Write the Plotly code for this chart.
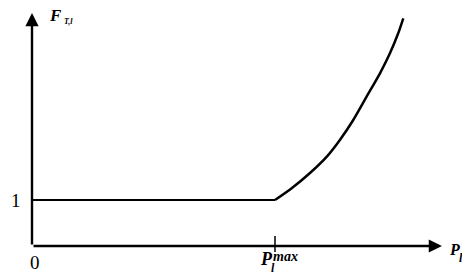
import plotly.graph_objects as go

# Data (in units of P_l^max on x, F_T,l on y)
flat_x = [0.0, 1.0]
flat_y = [1.0, 1.0]
curve_x = [1.0, 1.062, 1.144, 1.216, 1.267, 1.322, 1.377, 1.432, 1.473, 1.507, 1.528]
curve_y = [1.0, 1.228, 1.587, 1.960, 2.304, 2.739, 3.246, 3.754, 4.189, 4.624, 4.950]
x_tick_vals = [0.0, 1.0]
y_tick_vals = [1.0]

X_END = 1.687
Y_END = 5.065

W, H = 462, 276
fig = go.Figure()
fig.add_trace(go.Scatter(x=flat_x, y=flat_y, mode="lines",
                         line=dict(color="black", width=2.2), hoverinfo="skip"))
fig.add_trace(go.Scatter(x=curve_x, y=curve_y, mode="lines",
                         line=dict(color="black", width=2.5, shape="spline", smoothing=0.6),
                         hoverinfo="skip"))

serif = "Liberation Serif, Times New Roman, serif"

# Axes with arrows
fig.add_annotation(x=X_END, y=0, ax=0, ay=0, xref="x", yref="y", axref="x", ayref="y",
                   showarrow=True, arrowhead=2, arrowsize=1.1, arrowwidth=2.4,
                   arrowcolor="black", text="")
fig.add_annotation(x=0, y=Y_END, ax=0, ay=0, xref="x", yref="y", axref="x", ayref="y",
                   showarrow=True, arrowhead=2, arrowsize=1.1, arrowwidth=2.4,
                   arrowcolor="black", text="")

# tick at P_l^max
fig.add_shape(type="line", x0=x_tick_vals[1], x1=x_tick_vals[1], y0=-0.13, y1=0.217,
              xref="x", yref="y", line=dict(color="black", width=1.5))

def px(xp, yp):
    return xp / W, 1 - yp / H

# y tick label "1"
fig.add_annotation(x=-0.065, y=y_tick_vals[0], xref="x", yref="y", text="1",
                   showarrow=False, font=dict(family=serif, size=19, color="black"))
# origin "0"
fig.add_annotation(x=0.013, y=-0.36, xref="x", yref="y", text="0",
                   showarrow=False, font=dict(family=serif, size=19, color="black"))

# F_T,l label
fx, fy = px(47, 15)
fig.add_annotation(x=fx, y=fy, xref="paper", yref="paper", xanchor="left", yanchor="middle",
                   text="<b><i>F</i></b>", showarrow=False,
                   font=dict(family=serif, size=17, color="black"))
fx, fy = px(62, 21)
fig.add_annotation(x=fx, y=fy, xref="paper", yref="paper", xanchor="left", yanchor="middle",
                   text="<b><i>T,l</i></b>", showarrow=False,
                   font=dict(family=serif, size=8, color="black"))

# P_l axis label
fx, fy = px(447, 249)
fig.add_annotation(x=fx, y=fy, xref="paper", yref="paper", xanchor="left", yanchor="middle",
                   text="<b><i>P</i></b>", showarrow=False,
                   font=dict(family=serif, size=16, color="black"))
fx, fy = px(457, 258)
fig.add_annotation(x=fx, y=fy, xref="paper", yref="paper", xanchor="left", yanchor="middle",
                   text="<b><i>l</i></b>", showarrow=False,
                   font=dict(family=serif, size=12, color="black"))

# P_l^max label
fx, fy = px(258, 259)
fig.add_annotation(x=fx, y=fy, xref="paper", yref="paper", xanchor="left", yanchor="middle",
                   text="<b><i>P</i></b>", showarrow=False,
                   font=dict(family=serif, size=18, color="black"))
fx, fy = px(269, 268)
fig.add_annotation(x=fx, y=fy, xref="paper", yref="paper", xanchor="left", yanchor="middle",
                   text="<b><i>l</i></b>", showarrow=False,
                   font=dict(family=serif, size=12, color="black"))
fx, fy = px(271, 256)
fig.add_annotation(x=fx, y=fy, xref="paper", yref="paper", xanchor="left", yanchor="middle",
                   text="<b><i>max</i></b>", showarrow=False,
                   font=dict(family=serif, size=14, color="black"))

fig.update_layout(
    width=W, height=H, margin=dict(l=0, r=0, t=0, b=0),
    paper_bgcolor="white", plot_bgcolor="white", showlegend=False,
    xaxis=dict(range=[-32 / 243, 430 / 243], visible=False, fixedrange=True),
    yaxis=dict(range=[-30 / 46, 246 / 46], visible=False, fixedrange=True),
)
fig.write_html(
    "out.html",
    config={"displayModeBar": False, "staticPlot": True},
    post_script="document.body.style.margin='0';document.body.style.overflow='hidden';",
)
